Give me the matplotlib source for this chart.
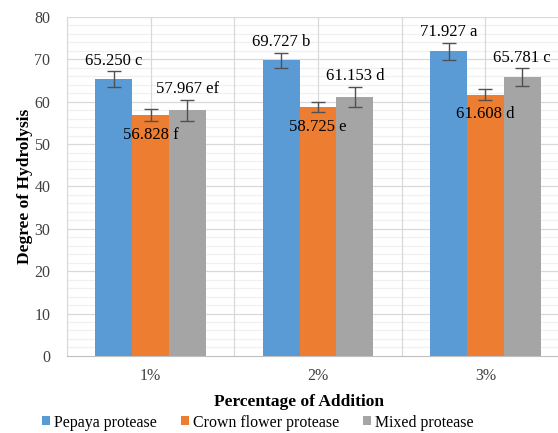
import matplotlib.pyplot as plt
import numpy as np
from matplotlib.patches import Patch
from matplotlib.ticker import MultipleLocator

plt.rcParams["font.family"] = ["Liberation Serif", "DejaVu Serif"]

categories = ["1%", "2%", "3%"]
series = ["Pepaya protease", "Crown flower protease", "Mixed protease"]
colors = ["#5B9BD5", "#ED7D31", "#A5A5A5"]

pepaya = [65.250, 69.727, 71.927]
crown = [56.828, 58.725, 61.608]
mixed = [57.967, 61.153, 65.781]

pepaya_err = [1.9, 1.8, 2.0]
crown_err = [1.4, 1.25, 1.3]
mixed_err = [2.5, 2.4, 2.1]

pepaya_tags = ["c", "b", "a"]
crown_tags = ["f", "e", "d"]
mixed_tags = ["ef", "d", "c"]

values = [pepaya, crown, mixed]
errors = [pepaya_err, crown_err, mixed_err]
tags = [pepaya_tags, crown_tags, mixed_tags]

fig = plt.figure(figsize=(5.58, 4.33), dpi=100)
ax = fig.add_axes([0.12, 0.178, 0.9, 0.783])

x = np.arange(len(categories))
width = 0.22
offsets = [-width, 0, width]

ax.set_ylim(0, 80)
ax.set_xlim(-0.5, 2.5)

# gridlines: light every 2, slightly darker every 10, verticals at centres and boundaries
for y in np.arange(2, 80, 2):
    ax.axhline(y, color="#F0F0F0" if y % 10 else "#D9D9D9", lw=0.9, zorder=0)
ax.axhline(80, color="#D9D9D9", lw=0.9, zorder=0)
for xv in np.arange(-0.5, 2.6, 0.5):
    ax.axvline(xv, color="#D9D9D9", lw=0.9, zorder=0)

for i in range(3):
    ax.bar(x + offsets[i], values[i], width, color=colors[i], zorder=2,
           label=series[i])
    ax.errorbar(x + offsets[i], values[i], yerr=errors[i], fmt="none",
                ecolor="#505050", elinewidth=1.0, capsize=5, capthick=1.0,
                zorder=3)

for j in range(3):
    # pepaya and mixed labels sit above their error bars
    for i in (0, 2):
        ax.text(x[j] + offsets[i], values[i][j] + errors[i][j] + 0.6,
                f"{values[i][j]:.3f} {tags[i][j]}", ha="center", va="bottom",
                fontsize=12, zorder=4)
    # crown flower labels sit just inside the bar top
    ax.text(x[j] + offsets[1], crown[j] - 4.6, f"{crown[j]:.3f} {crown_tags[j]}",
            ha="center", va="center", fontsize=12, zorder=4)

ax.yaxis.set_major_locator(MultipleLocator(10))
ax.set_xticks(x)
ax.set_xticklabels(categories)
ax.tick_params(axis="both", length=0, labelsize=11.5, colors="#404040")
ax.tick_params(axis="x", pad=9)
ax.tick_params(axis="y", pad=12)

for side in ("top", "right"):
    ax.spines[side].set_visible(False)
ax.spines["left"].set_color("#D9D9D9")
ax.spines["bottom"].set_color("#BFBFBF")

ax.set_ylabel("Degree of Hydrolysis", fontsize=12.5, fontweight="bold", labelpad=1)
fig.text(0.535, 0.071, "Percentage of Addition", ha="center", va="center",
         fontsize=12.5, fontweight="bold")

handles = [Patch(facecolor=c, label=s) for c, s in zip(colors, series)]
fig.legend(handles=handles, loc="center", bbox_to_anchor=(0.462, 0.024),
           ncol=3, frameon=False, fontsize=11.4, handlelength=0.5,
           handleheight=0.5, handletextpad=0.25, columnspacing=1.5)

fig.savefig("out.png", dpi=100)
